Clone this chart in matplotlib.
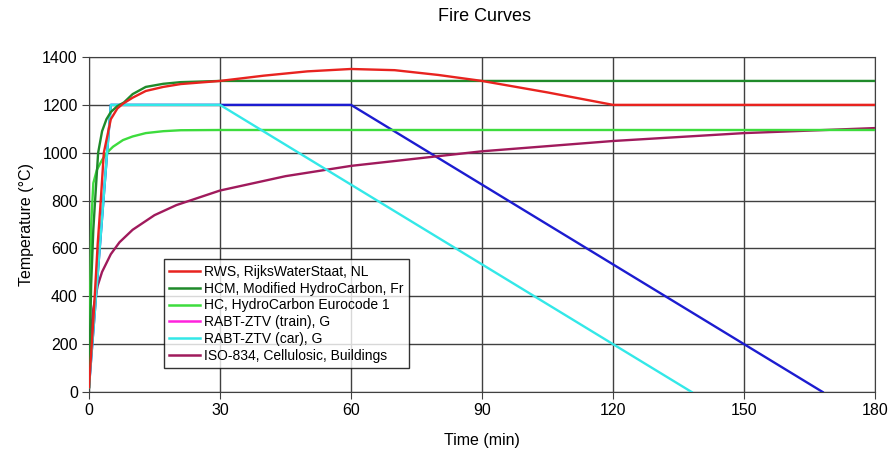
import numpy as np
import matplotlib.pyplot as plt
from matplotlib.lines import Line2D

plt.rcParams['font.family'] = ['Liberation Sans', 'DejaVu Sans']

# values (time in min, temperature in degC)
rws_t = [0, 1, 2, 2.7, 3.4, 5, 6.5, 7.8, 10, 13, 17, 21, 30, 40, 50, 60, 70, 80, 90, 105, 120, 180]
rws_T = [20, 300, 620, 800, 1000, 1140, 1185, 1205, 1230, 1258, 1275, 1287, 1300, 1322, 1340, 1350,
         1345, 1325, 1300, 1252, 1200, 1200]

hcm_t = [0, 0.5, 1, 1.4, 2.1, 3, 4, 5, 6.5, 8, 10, 13, 17, 21, 30, 180]
hcm_T = [20, 450, 680, 800, 1000, 1090, 1140, 1170, 1195, 1210, 1245, 1275, 1288, 1295, 1300, 1300]

hc_t = [0, 0.5, 1, 1.8, 3, 4.1, 5.5, 7.8, 10, 13, 17, 21, 30, 180]
hc_T = [20, 700, 873, 928, 970, 1000, 1025, 1053, 1068, 1082, 1090, 1094, 1095, 1095]

train_t = [0, 5, 60, 168]
train_T = [20, 1200, 1200, 0]

car_t = [0, 5, 30, 138]
car_T = [20, 1200, 1200, 0]

iso_t = [0, 0.5, 1, 2, 3, 5, 7, 10, 15, 20, 30, 45, 60, 90, 120, 150, 180]
iso_T = [20, 260, 349, 445, 502, 576, 626, 678, 739, 781, 842, 902, 945, 1006, 1049, 1082, 1103]

labels = ["RWS, RijksWaterStaat, NL", "HCM, Modified HydroCarbon, Fr",
          "HC, HydroCarbon Eurocode 1", "RABT-ZTV (train), G",
          "RABT-ZTV (car), G", "ISO-834, Cellulosic, Buildings"]
legend_colors = ["#e8231f", "#1f8a2a", "#3ddc3d", "#ff22dd", "#33e8e8", "#a01a5c"]

fig = plt.figure(figsize=(8.88, 4.5), dpi=100)
ax = fig.add_axes([0.1002, 0.1289, 0.8852, 0.7444])

ax.plot(train_t, train_T, color="#1c1cd0", lw=1.7, zorder=3)
ax.plot(car_t, car_T, color="#33e8e8", lw=1.7, zorder=4)
ax.plot(iso_t, iso_T, color="#a01a5c", lw=1.7, zorder=3)
ax.plot(hc_t, hc_T, color="#3ddc3d", lw=1.7, zorder=3)
ax.plot(hcm_t, hcm_T, color="#1f8a2a", lw=1.7, zorder=4)
ax.plot(rws_t, rws_T, color="#e8231f", lw=1.7, zorder=5)

ax.set_xlim(0, 180)
ax.set_ylim(0, 1400)
ax.set_xticks(np.arange(0, 181, 30))
ax.set_yticks(np.arange(0, 1401, 200))
ax.grid(True, color="#404040", lw=1.0)
ax.set_axisbelow(True)
for s in ax.spines.values():
    s.set_color("#404040")
ax.tick_params(colors="#404040", labelcolor="black", labelsize=11.5, length=5, pad=3)

ax.set_xlabel("Time (min)", fontsize=11.5, labelpad=11)
ax.set_ylabel("Temperature (°C)", fontsize=11.5, labelpad=6)
fig.suptitle("Fire Curves", x=0.546, y=0.982, fontsize=13)

handles = [Line2D([], [], color=c, lw=1.8) for c in legend_colors]
leg = ax.legend(handles, labels, loc="lower left", bbox_to_anchor=(0.086, 0.05),
                fontsize=10, frameon=True, fancybox=False, handlelength=2.2,
                handletextpad=0.3, labelspacing=0.2, borderpad=0.4)
leg.get_frame().set_edgecolor("black")
leg.get_frame().set_linewidth(1.0)
leg.set_zorder(10)

fig.savefig("out.png", dpi=100)
